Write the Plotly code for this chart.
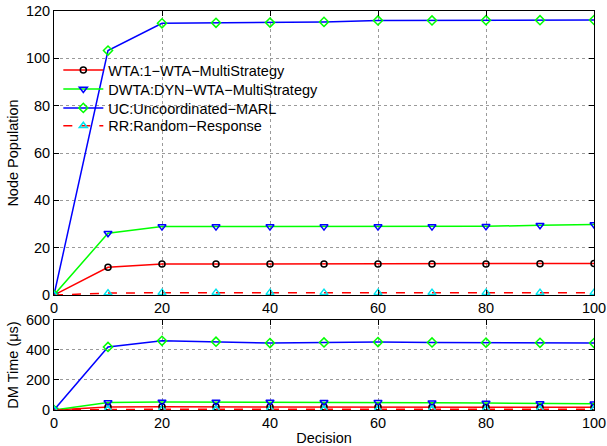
import plotly.graph_objects as go
from plotly.subplots import make_subplots

decisions = [0, 10, 20, 30, 40, 50, 60, 70, 80, 90, 100]

# Node population (top panel)
pop_wta = [0, 11.7, 13.1, 13.1, 13.1, 13.1, 13.1, 13.1, 13.1, 13.2, 13.3]
pop_dwta = [0, 26.1, 28.9, 28.9, 28.9, 28.9, 28.9, 28.9, 29.0, 29.5, 29.8]
pop_uc = [0, 103.3, 114.8, 115.0, 115.1, 115.4, 116.0, 116.0, 116.1, 116.1, 116.2]
pop_rr = [0, 0.8, 1.0, 1.0, 1.0, 1.0, 1.0, 1.0, 1.0, 1.0, 1.0]

# DM time in microseconds (bottom panel)
t_wta = [0, 20, 21, 21, 20, 20, 20, 19, 19, 18, 18]
t_dwta = [0, 50, 54, 54, 53, 52, 51, 49, 46, 43, 42]
t_uc = [0, 420, 461, 455, 446, 450, 453, 450, 449, 448, 446]
t_rr = [0, 5, 5, 5, 5, 5, 5, 5, 5, 5, 5]

names = ["WTA:1\u2212WTA\u2212MultiStrategy", "DWTA:DYN\u2212WTA\u2212MultiStrategy",
         "UC:Uncoordinated\u2212MARL", "RR:Random\u2212Response"]

styles = [
    dict(line=dict(color="#ff0000", width=1.5), marker=dict(symbol="circle-open", color="#000000", size=6, line=dict(width=1.5))),
    dict(line=dict(color="#00ff00", width=1.5), marker=dict(symbol="triangle-down-open", color="#0000ff", size=7, line=dict(width=1.5))),
    dict(line=dict(color="#0000ff", width=1.5), marker=dict(symbol="diamond-open", color="#00ff00", size=7, line=dict(width=1.5))),
    dict(line=dict(color="#ff0000", width=1.5, dash="dash"), marker=dict(symbol="triangle-up-open", color="#00e5ee", size=7, line=dict(width=1.5))),
]

legend_ids = ["legend", "legend2", "legend3", "legend4"]

fig = make_subplots(rows=2, cols=1)

for ys, nm, st, lg in zip([pop_wta, pop_dwta, pop_uc, pop_rr], names, styles, legend_ids):
    fig.add_trace(go.Scatter(x=decisions, y=ys, mode="lines+markers", name=nm,
                             line=st["line"], marker=st["marker"], showlegend=True,
                             legend=lg), row=1, col=1)
for ys, nm, st in zip([t_wta, t_dwta, t_uc, t_rr], names, styles):
    fig.add_trace(go.Scatter(x=decisions, y=ys, mode="lines+markers", name=nm,
                             line=st["line"], marker=st["marker"], showlegend=False), row=2, col=1)

axis_common = dict(showline=True, linecolor="black", linewidth=1, mirror="ticks",
                   ticks="inside", ticklen=5, tickcolor="black",
                   showgrid=True, gridcolor="#9a9a9a", griddash="dot", gridwidth=1,
                   zeroline=False, automargin=False,
                   tickfont=dict(size=14.5, color="black"))

fig.update_xaxes(**axis_common)
fig.update_yaxes(**axis_common)

leg_common = dict(x=0.008, xanchor="left", yanchor="middle", bgcolor="rgba(0,0,0,0)",
                  font=dict(size=14.5, color="black"), itemwidth=40, borderwidth=0)
legend_y = [0.852, 0.8045, 0.757, 0.712]

layout_legends = {lg: dict(y=yy, **leg_common) for lg, yy in zip(legend_ids, legend_y)}

fig.update_layout(
    width=607, height=446,
    margin=dict(l=54, r=13, t=11, b=36),
    paper_bgcolor="white", plot_bgcolor="white",
    font=dict(family="Liberation Sans, Arial, sans-serif", size=14.5, color="black"),
    xaxis=dict(domain=[0, 1], range=[0, 100], tickvals=[0, 20, 40, 60, 80, 100]),
    yaxis=dict(domain=[0.2882, 1.0], range=[0, 120], tickvals=[0, 20, 40, 60, 80, 100, 120],
               title=dict(text="Node Population", font=dict(size=14.5), standoff=3)),
    xaxis2=dict(domain=[0, 1], range=[0, 100], tickvals=[0, 20, 40, 60, 80, 100],
                title=dict(text="Decision", font=dict(size=14.5), standoff=2)),
    yaxis2=dict(domain=[0, 0.2256], range=[0, 600], tickvals=[0, 200, 400, 600],
                title=dict(text="DM Time (\u03bcs)", font=dict(size=14.5), standoff=3)),
    **layout_legends,
)

fig.write_html("out.html", config={"displayModeBar": False},
               post_script="document.body.style.margin='0px';document.body.style.padding='0px';document.body.style.overflow='hidden';")
